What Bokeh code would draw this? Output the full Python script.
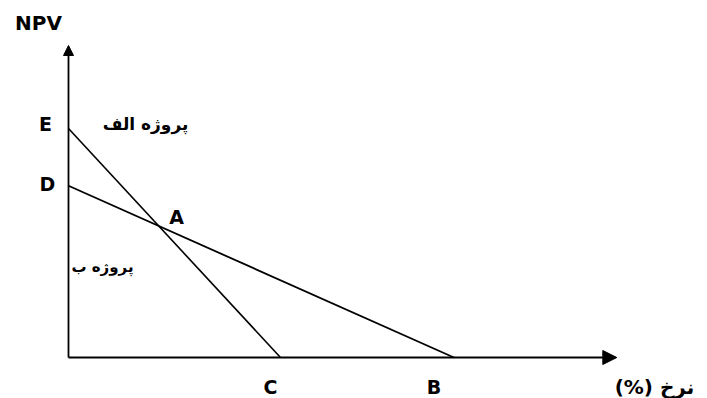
from bokeh.plotting import figure
from bokeh.models import Range1d, Arrow, NormalHead
from bokeh.core.properties import value
from bokeh.embed import file_html
from bokeh.resources import INLINE

# Data (arbitrary units)
npv_E = 4.0      # NPV intercept of project الف
npv_D = 3.0      # NPV intercept of project ب
rate_C = 11.0    # IRR of project الف
rate_B = 20.0    # IRR of project ب
axis_x_end = 28.45
axis_y_end = 5.45

line_a_x = [0.0, rate_C]
line_a_y = [npv_E, 0.0]
line_b_x = [0.0, rate_B]
line_b_y = [npv_D, 0.0]

point_labels = ["E", "D", "C", "B", "A"]
project_labels = ["پروژه الف", "پروژه ب"]
axis_labels = ["NPV", "نرخ (%)\u200f"]

# intersection A
slope_a = -npv_E / rate_C
slope_b = -npv_D / rate_B
ax_pt = (npv_D - npv_E) / (slope_a - slope_b)
ay_pt = npv_E + slope_a * ax_pt

W, H = 707, 398
ox, oy = 68, 357
px_x = 212 / rate_C
px_y = 229 / npv_E

p = figure(width=W, height=H, output_backend="svg", toolbar_location=None,
           x_range=Range1d(-ox / px_x, (W - ox) / px_x),
           y_range=Range1d(-(H - oy) / px_y, oy / px_y),
           min_border=0, outline_line_color=None)
p.xaxis.visible = False
p.yaxis.visible = False
p.grid.visible = False
p.background_fill_color = "white"
p.border_fill_color = "white"

p.line(line_a_x, line_a_y, line_color="black", line_width=1.6)
p.line(line_b_x, line_b_y, line_color="black", line_width=1.8)

# axes with arrows
p.add_layout(Arrow(x_start=0, y_start=0, x_end=axis_x_end, y_end=0,
                   line_color="black", line_width=1.8,
                   end=NormalHead(size=14, fill_color="black", line_color="black")))
p.add_layout(Arrow(x_start=0, y_start=0, x_end=0, y_end=axis_y_end,
                   line_color="black", line_width=1.8,
                   end=NormalHead(size=10, fill_color="black", line_color="black")))

bold = dict(text_font=value("DejaVu Sans"), text_font_style="bold",
            text_font_size="19px", text_color="black",
            text_align="center", text_baseline="middle")

dx = lambda px: px / px_x
dy = lambda px: px / px_y

p.text(x=[dx(-23)], y=[npv_E + dy(5)], text=[point_labels[0]], **bold)
p.text(x=[dx(-21)], y=[npv_D + dy(2)], text=[point_labels[1]], **bold)
p.text(x=[rate_C - dx(10)], y=[dy(-29)], text=[point_labels[2]], **bold)
p.text(x=[rate_B - dx(20)], y=[dy(-29)], text=[point_labels[3]], **bold)
p.text(x=[ax_pt + dx(18)], y=[ay_pt + dy(9)], text=[point_labels[4]], **bold)
p.text(x=[dx(-30)], y=[dy(335)], text=[axis_labels[0]], text_align="center",
       text_baseline="middle", text_font=value("DejaVu Sans"), text_font_style="bold",
       text_font_size="20px", text_color="black")

fa = dict(text_font=value("DejaVu Sans"), text_font_size="16px", text_font_style="bold",
          text_color="black", text_baseline="middle", text_align="center")
p.text(x=[dx(77)], y=[npv_E + dy(5)], text=[project_labels[0]], text_font_size="17px",
       **{k: v for k, v in fa.items() if k != "text_font_size"})
p.text(x=[dx(34)], y=[ay_pt - dy(41)], text=[project_labels[1]], text_font_size="15px",
       **{k: v for k, v in fa.items() if k != "text_font_size"})
p.text(x=[dx(586)], y=[dy(-29)], text=[axis_labels[1]], text_align="center",
       text_font=value("DejaVu Sans"), text_font_size="20px", text_font_style="bold",
       text_color="black", text_baseline="middle")

open("out.html", "w").write(file_html(p, INLINE))
